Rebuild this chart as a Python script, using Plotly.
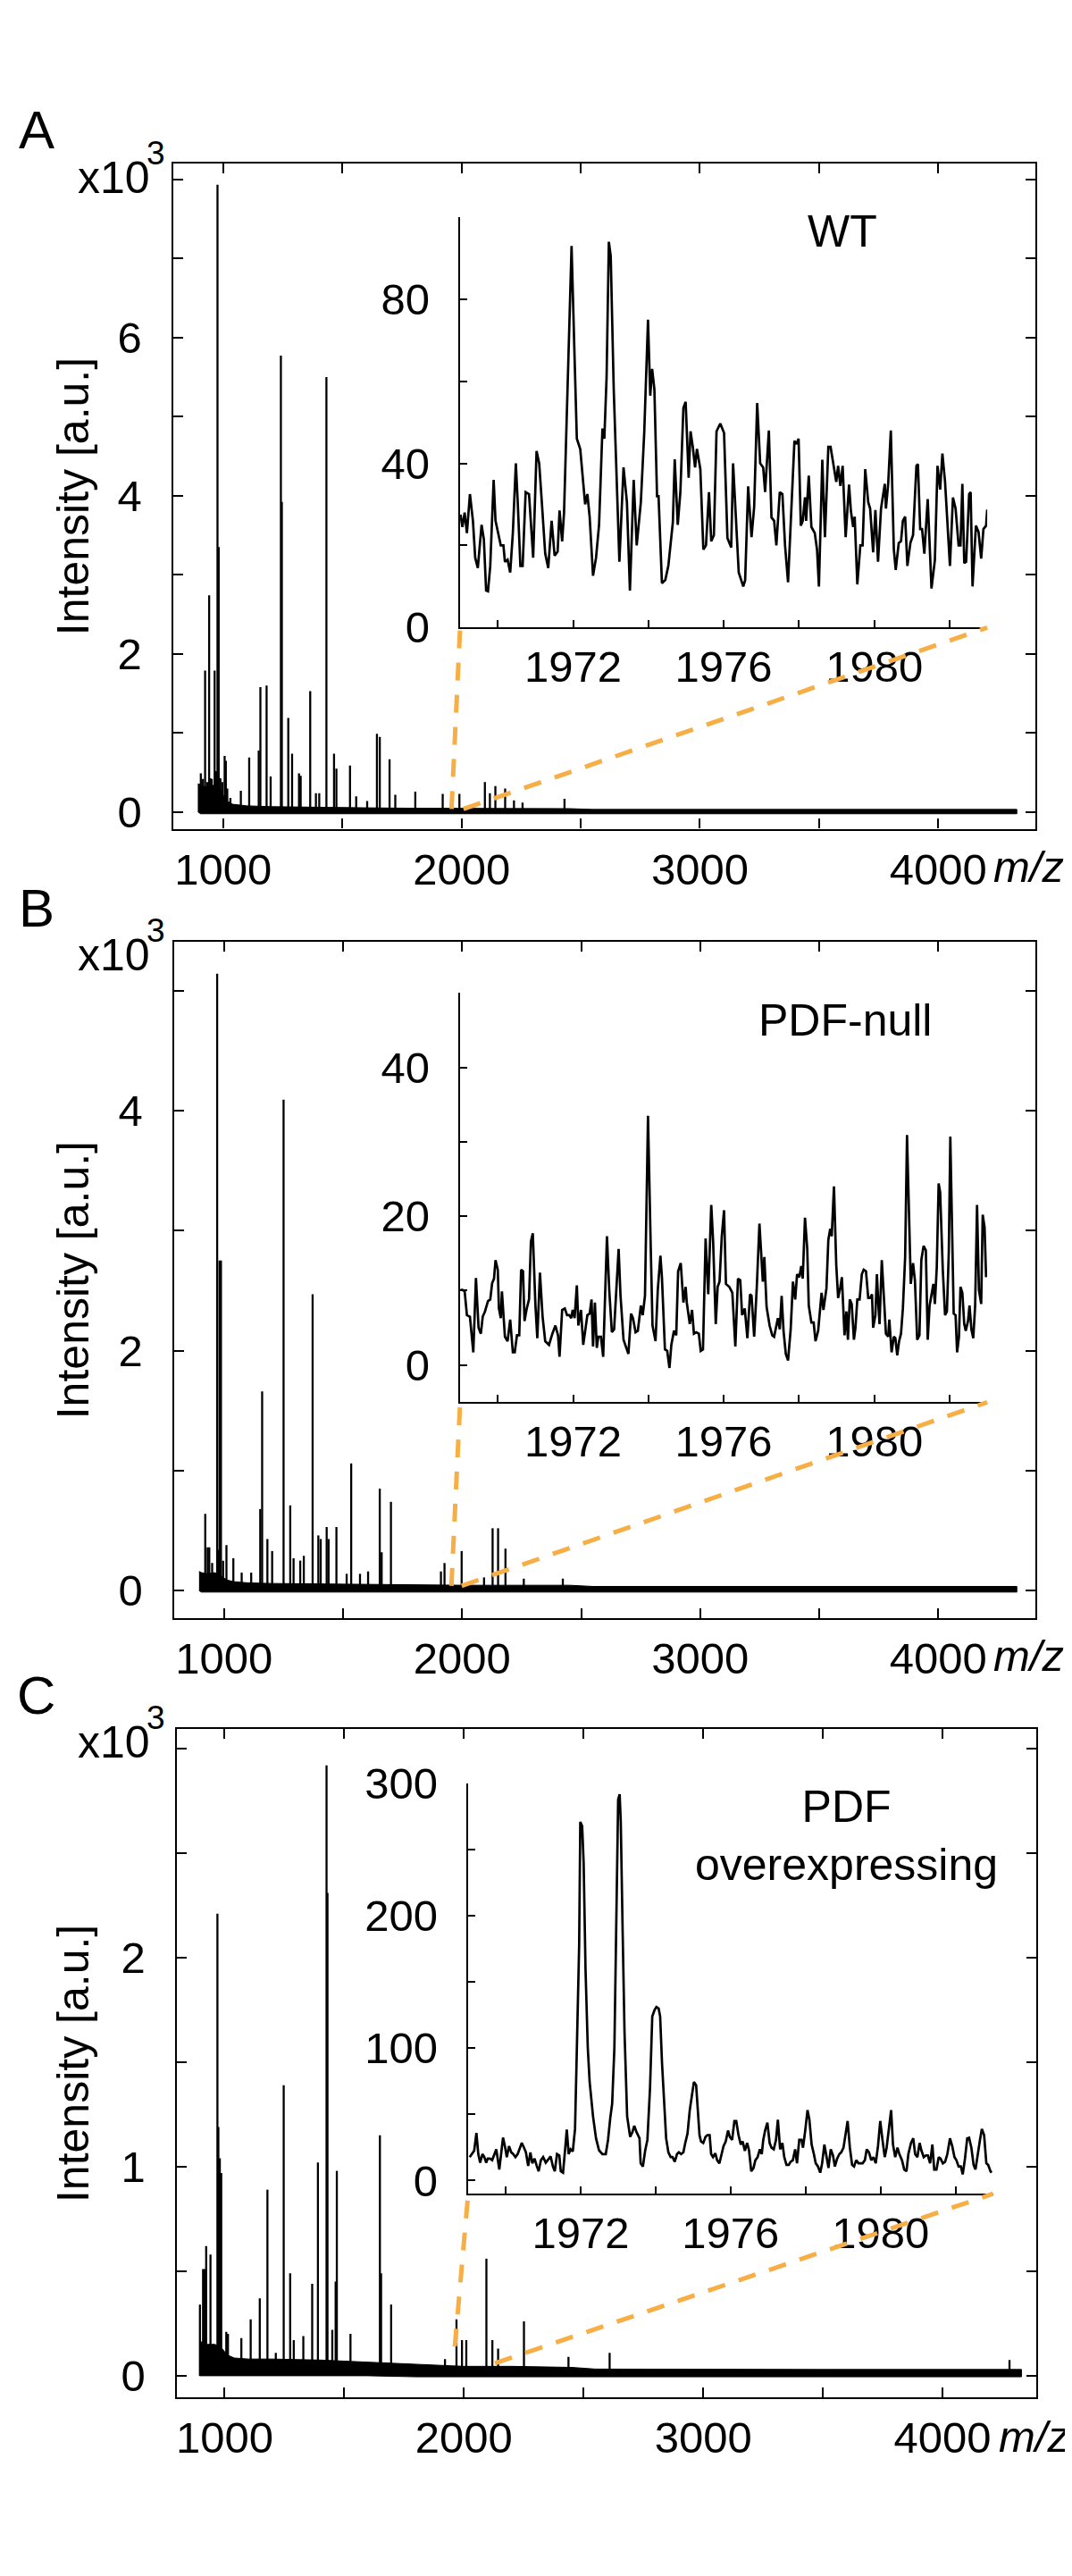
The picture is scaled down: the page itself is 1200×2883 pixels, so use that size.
import plotly.graph_objects as go

W, H = 1200, 2883
FONT = "Liberation Sans, Arial, Helvetica, sans-serif"
ORANGE = "#F6AE45"

# ================= DATA =================
# --- Panel A (WT) main spectrum: peak positions (m/z) and intensities (a.u.)
a_peak_mz = [898, 906, 915, 924, 933, 941, 946, 952, 964, 970, 976, 981, 988, 996, 1006, 1011, 1017, 1030,
             1074, 1109, 1149, 1156, 1182, 1199, 1242, 1246, 1273, 1289, 1318, 1325, 1365, 1389, 1403,
             1433, 1465, 1475, 1532, 1558, 1604, 1645, 1657, 1698, 1722, 1806, 1921, 1991, 2098, 2119,
             2142, 2183, 2220, 2256, 2432]
a_peak_int = [360, 490, 420, 1790, 380, 2740, 430, 420, 1790, 520, 7930, 3350, 430, 380, 710, 650, 300, 180,
              270, 690, 780, 1580, 1600, 450, 5770, 3920, 1190, 740, 490, 460, 1530, 240, 240,
              5500, 740, 550, 590, 200, 140, 990, 950, 670, 220, 260, 230, 230, 380, 240,
              330, 300, 150, 120, 170]
# baseline noise band (upper / lower envelope)
band_mz = [895, 905, 930, 960, 990, 1010, 1040, 1100, 1200, 1400, 1600, 1800, 2000, 2200, 2450, 2550,
           3000, 3500, 4000, 4330]
a_band_hi = [360, 330, 320, 340, 280, 150, 100, 80, 70, 60, 55, 50, 50, 50, 45, 35, 35, 35, 35, 35]
a_band_lo = [0, -20, -20, -20, -20, -20, -20, -20, -20, -20, -20, -20, -20, -20, -20, -20, -20, -20, -20, -20]

# --- Panel A inset (m/z 1969-1983)
a_zoom_mz = [1969.01, 1969.06, 1969.12, 1969.18, 1969.26, 1969.34, 1969.40, 1969.47, 1969.57, 1969.63,
             1969.69, 1969.74, 1969.80, 1969.89, 1969.94, 1970.00, 1970.08, 1970.15, 1970.19, 1970.26,
             1970.33, 1970.40, 1970.48, 1970.53, 1970.60, 1970.66, 1970.74, 1970.83, 1970.94, 1971.03,
             1971.10, 1971.17, 1971.26, 1971.34, 1971.43, 1971.51, 1971.59, 1971.64, 1971.71, 1971.76,
             1971.81, 1971.89, 1971.96, 1972.04, 1972.10, 1972.19, 1972.27, 1972.32, 1972.38, 1972.44,
             1972.53, 1972.61, 1972.69, 1972.78, 1972.83, 1972.89, 1972.95, 1973.00, 1973.08, 1973.14,
             1973.23, 1973.34, 1973.43, 1973.51, 1973.61, 1973.69, 1973.80, 1973.89, 1973.99, 1974.05,
             1974.10, 1974.16, 1974.23, 1974.27, 1974.36, 1974.45, 1974.53, 1974.65, 1974.70, 1974.78,
             1974.85, 1974.93, 1974.99, 1975.07, 1975.12, 1975.18, 1975.24, 1975.29, 1975.38, 1975.46,
             1975.53, 1975.61, 1975.67, 1975.74, 1975.81, 1975.91, 1976.01, 1976.10, 1976.20, 1976.25,
             1976.31, 1976.40, 1976.52, 1976.57, 1976.65, 1976.74, 1976.81, 1976.89, 1976.97, 1977.05,
             1977.10, 1977.20, 1977.27, 1977.34, 1977.40, 1977.49, 1977.56, 1977.63, 1977.71, 1977.78,
             1977.88, 1977.93, 1977.99, 1978.05, 1978.10, 1978.16, 1978.19, 1978.26, 1978.33, 1978.42,
             1978.48, 1978.53, 1978.62, 1978.69, 1978.78, 1978.84, 1978.92, 1978.99, 1979.04, 1979.10,
             1979.16, 1979.24, 1979.33, 1979.38, 1979.44, 1979.48, 1979.55, 1979.63, 1979.69, 1979.76,
             1979.84, 1979.89, 1979.97, 1980.03, 1980.10, 1980.18, 1980.28, 1980.31, 1980.37, 1980.44,
             1980.52, 1980.57, 1980.65, 1980.71, 1980.76, 1980.82, 1980.88, 1980.96, 1981.03, 1981.12,
             1981.16, 1981.22, 1981.27, 1981.33, 1981.42, 1981.48, 1981.52, 1981.61, 1981.68, 1981.75,
             1981.81, 1981.88, 1981.95, 1982.01, 1982.09, 1982.16, 1982.24, 1982.29, 1982.34, 1982.39,
             1982.44, 1982.52, 1982.56, 1982.61, 1982.70, 1982.77, 1982.84, 1982.90, 1982.97, 1983.00]
a_zoom_int = [27.5, 24.5, 28, 23, 32.5, 26, 17, 14.5, 25, 21.5,
              9, 8.8, 15, 36, 26, 23.5, 20, 20, 16, 16.5,
              13.4, 23, 40, 30.5, 15, 15, 33, 32.5, 17, 43,
              40, 30.5, 18, 14.5, 26, 17.5, 18.5, 28.5, 21, 28,
              44, 66, 93, 65.7, 46, 43.5, 35, 30, 32.5, 27,
              12.6, 17, 25, 48.5, 46, 61, 94, 90.5, 58, 41.5,
              16, 39, 30.5, 9, 36, 20, 30.5, 47.5, 75, 56.5,
              63, 58, 32, 32, 10.8, 11.6, 15, 25.6, 41, 25,
              33, 53.5, 55, 36.5, 47.8, 44, 39, 43.5, 38.6, 19,
              20, 33, 21, 22.5, 47.8, 49.7, 47.4, 21.8, 19.5, 40,
              30, 13.4, 10, 11.5, 34.4, 22, 29.4, 54.7, 40, 39,
              33, 48, 26.8, 26, 20, 33, 32.5, 20, 11, 25,
              45.5, 44.7, 46, 24.8, 26, 31.7, 26, 37, 24.5, 23,
              19, 10, 40.9, 22, 44, 44, 39, 35.5, 39.4, 34.5,
              39.4, 22, 34.8, 28.3, 24.5, 27, 10.5, 20, 20, 38.6,
              30.5, 29, 18.3, 28.6, 16, 29, 35, 29, 35, 48,
              19, 14, 20.6, 21, 26, 27, 15, 20.6, 22.5, 39.4,
              39.8, 24, 24, 18, 31.3, 16.4, 9.5, 16.4, 39.4, 33.6,
              42.4, 35.5, 24.5, 15, 31.7, 29, 20, 20, 35, 15.7,
              16, 32.5, 33, 10, 24.8, 23.3, 16.8, 24, 24.8, 28.7]

# --- Panel B (PDF-null) main spectrum
b_peak_mz = [921, 931, 938, 950, 971, 977, 981, 987, 996, 1010, 1039, 1074, 1114, 1152, 1160, 1182, 1202,
             1250, 1278, 1292, 1320, 1335, 1372, 1396, 1406, 1431, 1439, 1472, 1515, 1534, 1571, 1605,
             1654, 1662, 1701, 1911, 1926, 1998, 2092, 2128, 2151, 2182, 2259, 2423]
b_peak_int = [640, 360, 360, 230, 5140, 340, 2750, 2750, 250, 380, 270, 150, 150, 680, 1660, 430, 330,
              4090, 710, 270, 250, 290, 2470, 460, 430, 530, 430, 530, 140, 1060, 140, 160,
              850, 320, 740, 160, 230, 330, 110, 520, 520, 350, 100, 100]
b_band_hi = [160, 150, 140, 150, 120, 90, 75, 65, 60, 55, 50, 50, 45, 45, 45, 35, 35, 35, 35, 35]
b_band_lo = [0, -12, -12, -12, -12, -12, -12, -12, -12, -12, -12, -12, -12, -12, -12, -12, -12, -12, -12, -12]

# --- Panel B inset
b_zoom_mz = [1969.01, 1969.06, 1969.12, 1969.18, 1969.26, 1969.35, 1969.42, 1969.49, 1969.55, 1969.60,
             1969.66, 1969.74, 1969.80, 1969.85, 1969.90, 1969.94, 1970.00, 1970.03, 1970.08, 1970.11,
             1970.19, 1970.26, 1970.33, 1970.40, 1970.45, 1970.51, 1970.57, 1970.62, 1970.67, 1970.71,
             1970.77, 1970.83, 1970.88, 1970.93, 1971.00, 1971.05, 1971.12, 1971.19, 1971.26, 1971.36,
             1971.45, 1971.53, 1971.60, 1971.64, 1971.71, 1971.78, 1971.84, 1971.90, 1971.95, 1971.99,
             1972.04, 1972.10, 1972.14, 1972.21, 1972.27, 1972.32, 1972.38, 1972.44, 1972.49, 1972.53,
             1972.58, 1972.63, 1972.67, 1972.74, 1972.80, 1972.84, 1972.90, 1972.96, 1973.03, 1973.09,
             1973.15, 1973.21, 1973.26, 1973.34, 1973.40, 1973.47, 1973.54, 1973.59, 1973.66, 1973.72,
             1973.80, 1973.85, 1973.91, 1973.99, 1974.06, 1974.11, 1974.19, 1974.25, 1974.32, 1974.36,
             1974.44, 1974.50, 1974.56, 1974.61, 1974.68, 1974.74, 1974.79, 1974.86, 1974.93, 1974.99,
             1975.02, 1975.10, 1975.16, 1975.21, 1975.27, 1975.34, 1975.39, 1975.45, 1975.52, 1975.59,
             1975.67, 1975.72, 1975.79, 1975.84, 1975.89, 1975.95, 1976.01, 1976.06, 1976.15, 1976.23,
             1976.31, 1976.38, 1976.44, 1976.49, 1976.56, 1976.63, 1976.70, 1976.74, 1976.81, 1976.88,
             1976.95, 1976.99, 1977.04, 1977.08, 1977.14, 1977.22, 1977.29, 1977.34, 1977.39, 1977.44,
             1977.49, 1977.54, 1977.59, 1977.65, 1977.71, 1977.78, 1977.84, 1977.90, 1977.95, 1978.01,
             1978.06, 1978.10, 1978.16, 1978.22, 1978.26, 1978.33, 1978.39, 1978.44, 1978.51, 1978.56,
             1978.60, 1978.65, 1978.73, 1978.78, 1978.83, 1978.87, 1978.93, 1978.99, 1979.04, 1979.10,
             1979.14, 1979.21, 1979.26, 1979.30, 1979.35, 1979.40, 1979.46, 1979.50, 1979.55, 1979.61,
             1979.67, 1979.72, 1979.78, 1979.84, 1979.89, 1979.94, 1979.97, 1980.03, 1980.07, 1980.11,
             1980.14, 1980.20, 1980.25, 1980.31, 1980.37, 1980.40, 1980.46, 1980.52, 1980.56, 1980.61,
             1980.66, 1980.71, 1980.76, 1980.82, 1980.87, 1980.92, 1980.97, 1981.03, 1981.08, 1981.14,
             1981.20, 1981.25, 1981.31, 1981.37, 1981.42, 1981.47, 1981.52, 1981.57, 1981.61, 1981.66,
             1981.71, 1981.75, 1981.82, 1981.88, 1981.93, 1981.98, 1982.02, 1982.07, 1982.11, 1982.16,
             1982.20, 1982.25, 1982.29, 1982.34, 1982.39, 1982.43, 1982.49, 1982.53, 1982.58, 1982.63,
             1982.68, 1982.73, 1982.78, 1982.84, 1982.88, 1982.93, 1982.97]
b_zoom_int = [10.1, 10.1, 9.9, 6.7, 6.5, 1.7, 11.7, 5, 4.2, 6.5,
              7.2, 8.6, 8.8, 11, 11.6, 14.1, 12.8, 7.6, 6.3, 9.9,
              3.8, 3.2, 6.1, 1.7, 1.7, 4, 4, 12.8, 12.6, 5.9,
              7.6, 8.8, 16.6, 17.7, 8, 3.6, 12.4, 6.5, 3.2, 2.7,
              4.2, 5.3, 4, 1.1, 7.4, 7.6, 6.7, 6.7, 6.3, 7.4,
              6.3, 10.7, 5.3, 7.4, 2.7, 4.6, 6.7, 6.9, 8.8, 2.5,
              8.4, 2.3, 3.8, 3.8, 1.1, 7.6, 17.3, 10.1, 4.4, 4.8,
              9.7, 15.6, 9.3, 3.4, 2.5, 1.5, 6.9, 6.3, 4.4, 4.6,
              8, 6.7, 9.3, 33.5, 16.4, 5.3, 3.2, 10.1, 14.7, 11.8,
              2.1, 1.9, -0.4, 2.7, 4.6, 4, 12.6, 13.7, 8.4, 10.5,
              8.4, 5.5, 7.4, 4.2, 4.4, 4.2, 1.9, 2.1, 17, 9.5,
              21.5, 16.6, 5.5, 10.5, 11.2, 17.3, 20.8, 10.9, 10.5, 9.7,
              2.5, 11.6, 11.4, 6.7, 7.6, 3.6, 9.5, 9.3, 3.8, 10.5,
              19, 14.7, 11.2, 14.5, 7.8, 5.3, 4, 3.8, 5.3, 6.3,
              4.8, 9.3, 4.6, 1.5, 0.6, 4.8, 11.2, 8.8, 12.2, 11.8,
              13.3, 11.6, 19.8, 15.6, 8, 5.7, 5.7, 3.2, 4.6, 8,
              9.7, 7.4, 10.3, 16.8, 18.3, 17.3, 24, 13.5, 9, 10.5,
              11.8, 4, 7.2, 3.4, 8.8, 8.2, 3.4, 5, 8.8, 8.8,
              12.2, 12.8, 12.6, 9, 9, 9.5, 5, 6.7, 12.2, 8,
              5.5, 14.1, 8.8, 4.2, 3.8, 6.1, 1.7, 3.8, 3.6, 1.3,
              3.2, 4.2, 7.6, 14.5, 30.9, 20.2, 10.9, 13.7, 11.4, 3.4,
              4, 14.1, 16, 15.4, 3.4, 8, 9.3, 10.9, 8.2, 13.1,
              24.4, 23.2, 12.8, 6.7, 7.2, 15.2, 30.7, 18.5, 6.9, 6.7,
              1.7, 3.8, 10.5, 9.7, 5.5, 4.6, 5.9, 8, 4.8, 3.6,
              8, 21.5, 10.1, 8.2, 20.2, 18.5, 11.8]

# --- Panel C (PDF overexpressing) main spectrum
c_peak_mz = [897, 910, 917, 923, 941, 970, 974, 980, 986, 1007, 1014, 1070, 1109, 1147, 1179, 1214, 1247,
             1274, 1289, 1329, 1366, 1390, 1426, 1430, 1450, 1464, 1469, 1526, 1649, 1654, 1696, 1921,
             1969, 1992, 2010, 2094, 2119, 2143, 2251, 2437, 2609, 4280]
c_peak_int = [340, 510, 510, 620, 580, 2210, 1190, 1040, 970, 210, 200, 180, 270, 370, 890, 110, 1390,
              490, 170, 190, 440, 1020, 2920, 2310, 220, 450, 980, 200, 1150, 490, 340, 80,
              270, 170, 170, 560, 170, 130, 260, 90, 110, 75]
c_band_hi = [170, 160, 150, 150, 130, 100, 85, 80, 80, 75, 65, 55, 45, 45, 40, 32, 30, 30, 30, 30]
c_band_lo = [0, 0, 0, 0, 0, 0, 0, 0, 0, 0, 0, -5, -5, -5, -5, -5, -5, -5, -5, -5]

# --- Panel C inset
c_zoom_mz = [1969.04, 1969.09, 1969.16, 1969.22, 1969.27, 1969.32, 1969.38, 1969.43, 1969.48, 1969.52,
             1969.58, 1969.64, 1969.71, 1969.75, 1969.83, 1969.89, 1969.93, 1969.98, 1970.03, 1970.09,
             1970.15, 1970.20, 1970.26, 1970.32, 1970.37, 1970.43, 1970.49, 1970.54, 1970.60, 1970.66,
             1970.71, 1970.77, 1970.83, 1970.88, 1970.94, 1971.00, 1971.07, 1971.13, 1971.20, 1971.26,
             1971.31, 1971.37, 1971.43, 1971.47, 1971.53, 1971.59, 1971.63, 1971.68, 1971.73, 1971.79,
             1971.85, 1971.89, 1971.96, 1971.99, 1972.04, 1972.08, 1972.13, 1972.19, 1972.24, 1972.33,
             1972.41, 1972.49, 1972.58, 1972.67, 1972.73, 1972.79, 1972.84, 1972.90, 1972.95, 1973.00,
             1973.04, 1973.07, 1973.12, 1973.17, 1973.24, 1973.32, 1973.38, 1973.43, 1973.49, 1973.57,
             1973.60, 1973.66, 1973.72, 1973.78, 1973.85, 1973.91, 1973.97, 1974.02, 1974.08, 1974.12,
             1974.17, 1974.23, 1974.28, 1974.34, 1974.40, 1974.45, 1974.51, 1974.57, 1974.62, 1974.68,
             1974.74, 1974.79, 1974.85, 1974.91, 1974.96, 1975.02, 1975.08, 1975.12, 1975.17, 1975.21,
             1975.27, 1975.33, 1975.38, 1975.44, 1975.48, 1975.53, 1975.59, 1975.64, 1975.70, 1975.76,
             1975.81, 1975.87, 1975.93, 1975.98, 1976.04, 1976.10, 1976.15, 1976.21, 1976.27, 1976.32,
             1976.38, 1976.44, 1976.49, 1976.55, 1976.61, 1976.66, 1976.72, 1976.78, 1976.83, 1976.87,
             1976.92, 1976.98, 1977.04, 1977.09, 1977.15, 1977.21, 1977.26, 1977.32, 1977.38, 1977.43,
             1977.49, 1977.55, 1977.60, 1977.66, 1977.72, 1977.77, 1977.83, 1977.89, 1977.93, 1977.99,
             1978.05, 1978.10, 1978.16, 1978.22, 1978.27, 1978.33, 1978.39, 1978.44, 1978.50, 1978.56,
             1978.61, 1978.67, 1978.73, 1978.78, 1978.84, 1978.90, 1978.95, 1979.01, 1979.07, 1979.12,
             1979.18, 1979.24, 1979.29, 1979.35, 1979.41, 1979.46, 1979.52, 1979.58, 1979.63, 1979.69,
             1979.75, 1979.81, 1979.87, 1979.93, 1979.99, 1980.05, 1980.11, 1980.16, 1980.22, 1980.28,
             1980.33, 1980.39, 1980.45, 1980.50, 1980.57, 1980.63, 1980.69, 1980.74, 1980.81, 1980.87,
             1980.92, 1980.98, 1981.04, 1981.09, 1981.15, 1981.21, 1981.26, 1981.32, 1981.38, 1981.43,
             1981.49, 1981.55, 1981.60, 1981.66, 1981.72, 1981.78, 1981.85, 1981.91, 1981.97, 1982.02,
             1982.08, 1982.14, 1982.19, 1982.25, 1982.31, 1982.36, 1982.42, 1982.48, 1982.53, 1982.59,
             1982.65, 1982.70, 1982.76, 1982.82, 1982.87, 1982.93, 1982.96]
c_zoom_int = [17.7, 20, 22.5, 36, 20, 13.5, 20, 17.7, 13.5, 16.5,
              16.5, 15.4, 20, 23.6, 8.3, 25.3, 32.4, 26, 17.7, 26,
              21.3, 20, 17.7, 20, 23.6, 28.4, 24.8, 21.3, 11, 21.3,
              13, 16.5, 11, 7, 15.4, 17.7, 13.5, 15.4, 18.2, 10.6,
              7, 20, 19, 7, 5.9, 24.8, 38.5, 20, 23.6, 22,
              39, 88.7, 178, 271, 268, 240, 159.6, 100.5, 74.5, 48.5,
              31.9, 22.9, 20, 20, 30.7, 47.3, 58, 100.5, 188, 288,
              292, 270.7, 188, 112.3, 48.5, 33, 36.6, 41.4, 36.6, 31.9,
              13, 10.6, 22.5, 30.7, 69.7, 124, 128.8, 131.2, 130, 124,
              88.7, 53.2, 31.9, 21.3, 17.7, 17.7, 14.2, 20, 21.3, 20,
              21.3, 28.4, 35.5, 53.2, 62.6, 74.5, 72, 58, 34.3, 29.6,
              28.4, 33, 34.3, 34.3, 20, 17.7, 20.6, 15.4, 13, 20,
              26, 29.6, 37.8, 33, 30.7, 45, 45, 34.3, 27.2, 29.6,
              22.5, 28.4, 22.9, 7, 9.5, 15.4, 17.7, 23.6, 20, 30.7,
              37.8, 43.7, 28.4, 24.8, 23.6, 30.7, 46, 23.6, 28.4, 17.7,
              11.8, 11.8, 14.2, 15.4, 23.6, 13, 30.7, 30.7, 24.8, 37.8,
              53.2, 46, 27.2, 20, 13, 10.6, 5.9, 13, 27.2, 17.7,
              9.5, 23.6, 19, 10.6, 16.5, 20, 21.3, 24.8, 34.3, 45,
              24.8, 11.8, 10.6, 15.4, 13, 13, 13, 15.4, 23.6, 21.3,
              15.4, 17.7, 13, 26, 45, 30.7, 17.7, 24.8, 41.4, 53.2,
              27.2, 17.7, 24.8, 20, 15.4, 8.3, 7, 20, 28.4, 31.9,
              20, 17.7, 28.4, 22.5, 17.7, 19, 19, 13, 27.2, 8.3,
              8.3, 17.7, 16.5, 13, 14.2, 20, 31.9, 26, 17.7, 15.4,
              10.6, 10.6, 4.7, 16.5, 31.9, 32.4, 24.8, 11.8, 8.3, 21.3,
              30.7, 39, 34.3, 13, 11.8, 7, 5.9]

# ticks: labelled (major) and unlabelled (minor)
main_x_major = [1000, 2000, 3000, 4000]
main_x_minor = [1500, 2500, 3500]
zoom_x_major = [1972, 1976, 1980]
zoom_x_minor = [1970, 1974, 1978, 1982]
a_y_major, a_y_labels, a_y_minor = [0, 2000, 4000, 6000], ["0", "2", "4", "6"], [1000, 3000, 5000, 7000, 8000]
b_y_major, b_y_labels, b_y_minor = [0, 2000, 4000], ["0", "2", "4"], [1000, 3000, 5000]
c_y_major, c_y_labels, c_y_minor = [0, 1000, 2000], ["0", "1", "2"], [500, 1500, 2500, 3000]
a_zy_major, a_zy_minor = [0, 40, 80], [20, 60, 100]
b_zy_major, b_zy_minor = [0, 20, 40], [10, 30, 50]
c_zy_major, c_zy_minor = [0, 100, 200, 300], [50, 150, 250]

# ================= FIGURE =================
def px_x(p):
    return p / W


def px_y(p):
    return 1 - p / H


def spikes(mz, inten):
    xs, ys = [], []
    for m, v in zip(mz, inten):
        xs += [m, m, None]
        ys += [0, v, None]
    return xs, ys


fig = go.Figure()

panels = [
    dict(pm=a_peak_mz, pi=a_peak_int, bh=a_band_hi, bl=a_band_lo, zm=a_zoom_mz, zi=a_zoom_int,
         mx="x", my="y", zx="x2", zy="y2"),
    dict(pm=b_peak_mz, pi=b_peak_int, bh=b_band_hi, bl=b_band_lo, zm=b_zoom_mz, zi=b_zoom_int,
         mx="x3", my="y3", zx="x4", zy="y4"),
    dict(pm=c_peak_mz, pi=c_peak_int, bh=c_band_hi, bl=c_band_lo, zm=c_zoom_mz, zi=c_zoom_int,
         mx="x5", my="y5", zx="x6", zy="y6"),
]

for p in panels:
    fig.add_trace(go.Scatter(x=band_mz + band_mz[::-1], y=p["bh"] + p["bl"][::-1], fill="toself",
                             fillcolor="black", line=dict(color="black", width=1), mode="lines",
                             xaxis=p["mx"], yaxis=p["my"], hoverinfo="skip", showlegend=False))
    sx, sy = spikes(p["pm"], p["pi"])
    fig.add_trace(go.Scatter(x=sx, y=sy, mode="lines", line=dict(color="black", width=2.3),
                             xaxis=p["mx"], yaxis=p["my"], showlegend=False))
    fig.add_trace(go.Scatter(x=p["zm"], y=p["zi"], mode="lines", line=dict(color="black", width=2.7),
                             xaxis=p["zx"], yaxis=p["zy"], showlegend=False))

tickfont = dict(family=FONT, size=49, color="black")
common = dict(showline=True, linecolor="black", linewidth=2.4, ticks="inside", tickwidth=2.2,
              tickcolor="black", showgrid=False, zeroline=False, tickfont=tickfont)


def main_axes(xdom, ydom, xrange, yrange, ytv, ytt, ymin, anchor_x, anchor_y):
    xa = dict(domain=xdom, range=xrange, tickmode="array", tickvals=main_x_major,
              ticktext=[str(v) for v in main_x_major], mirror="ticks", ticklen=11,
              minor=dict(tickvals=main_x_minor, ticks="inside", ticklen=11, tickwidth=2.2, tickcolor="black"),
              ticklabelstandoff=1, anchor=anchor_y, **common)
    ya = dict(domain=ydom, range=yrange, tickmode="array", tickvals=ytv, ticktext=ytt, mirror="ticks",
              ticklen=11,
              minor=dict(tickvals=ymin, ticks="inside", ticklen=11, tickwidth=2.2, tickcolor="black"),
              ticklabelstandoff=23, anchor=anchor_x, **common)
    return xa, ya


def zoom_axes(xdom, ydom, yrange, ytv, ymin, anchor_x, anchor_y):
    xa = dict(domain=xdom, range=[1969, 1983], tickmode="array", tickvals=zoom_x_major,
              ticktext=[str(v) for v in zoom_x_major], mirror=False, ticklen=8,
              minor=dict(tickvals=zoom_x_minor, ticks="inside", ticklen=8, tickwidth=2.2, tickcolor="black"),
              ticklabelstandoff=0, anchor=anchor_y, **common)
    ya = dict(domain=ydom, range=yrange, tickmode="array", tickvals=ytv, ticktext=[str(v) for v in ytv],
              mirror=False, ticklen=8,
              minor=dict(tickvals=ymin, ticks="inside", ticklen=8, tickwidth=2.2, tickcolor="black"),
              ticklabelstandoff=22, anchor=anchor_x, **common)
    return xa, ya


# Panel A
xa, ya = main_axes([px_x(185), px_x(1151)], [px_y(909.6), px_y(150.7)], [790, 4408], [-210, 8200],
                   a_y_major, a_y_labels, a_y_minor, "x", "y")
fig.update_layout(xaxis=xa, yaxis=ya)
xa, ya = zoom_axes([px_x(506.5), px_x(1097)], [px_y(680), px_y(212)], [0, 100],
                   a_zy_major, a_zy_minor, "x2", "y2")
fig.update_layout(xaxis2=xa, yaxis2=ya)
# Panel B
xa, ya = main_axes([px_x(186), px_x(1151)], [px_y(1810), px_y(1038)], [790, 4408], [-230, 5410],
                   b_y_major, b_y_labels, b_y_minor, "x3", "y3")
fig.update_layout(xaxis3=xa, yaxis3=ya)
xa, ya = zoom_axes([px_x(506.5), px_x(1097)], [px_y(1563.6), px_y(1096.8)], [-5, 50],
                   b_zy_major, b_zy_minor, "x4", "y4")
fig.update_layout(xaxis4=xa, yaxis4=ya)
# Panel C
xa, ya = main_axes([px_x(189), px_x(1152)], [px_y(2699), px_y(1936)], [800, 4392], [-105, 3095],
                   c_y_major, c_y_labels, c_y_minor, "x5", "y5")
fig.update_layout(xaxis5=xa, yaxis5=ya)
xa, ya = zoom_axes([px_x(515.5), px_x(1103.6)], [px_y(2466.4), px_y(1998.6)], [-10, 300],
                   c_zy_major, c_zy_minor, "x6", "y6")
fig.update_layout(xaxis6=xa, yaxis6=ya)


def to_paper(axname, val):
    ax = fig.layout[axname]
    d0, d1 = ax.domain
    r0, r1 = ax.range
    return d0 + (val - r0) / (r1 - r0) * (d1 - d0)


# connector (zoom) lines: main-axis start point (m/z, intensity) -> inset bottom corners
connectors = [
    ("xaxis", "yaxis", "xaxis2", "yaxis2", [(1958, 40, 1969), (2008, 40, 1983)]),
    ("xaxis3", "yaxis3", "xaxis4", "yaxis4", [(1955, 40, 1969), (1998, 40, 1983)]),
    ("xaxis5", "yaxis5", "xaxis6", "yaxis6", [(1962, 140, 1969), (2130, 60, 1983)]),
]
for mxa, mya, zxa, zya, pairs in connectors:
    ybot = fig.layout[zya].range[0]
    for m0, i0, z1 in pairs:
        fig.add_shape(type="line", xref="paper", yref="paper",
                      x0=to_paper(mxa, m0), y0=to_paper(mya, i0),
                      x1=to_paper(zxa, z1), y1=to_paper(zya, ybot),
                      line=dict(color=ORANGE, width=5, dash="20px,16px"))

ann = []
lab_font = dict(family=FONT, size=50, color="black")
for letter, box_top in [("A", 150.7), ("B", 1038), ("C", 1936)]:
    ann.append(dict(text=letter, x=px_x(32), y=px_y(box_top - 38), xref="paper", yref="paper",
                    xanchor="center", yanchor="middle", showarrow=False,
                    font=dict(family=FONT, size=60, color="black")))
    ann.append(dict(text="x10", x=px_x(76), y=px_y(box_top + 16), xref="paper", yref="paper",
                    xanchor="left", yanchor="middle", showarrow=False,
                    font=dict(family=FONT, size=50, color="black")))
    ann.append(dict(text="3", x=px_x(153), y=px_y(box_top - 12), xref="paper", yref="paper",
                    xanchor="left", yanchor="middle", showarrow=False,
                    font=dict(family=FONT, size=37, color="black")))
for yref in ["y domain", "y3 domain", "y5 domain"]:
    ann.append(dict(text="Intensity [a.u.]", x=px_x(73), y=0.5, xref="paper", yref=yref,
                    xanchor="center", yanchor="middle", textangle=-90, showarrow=False,
                    font=lab_font))
for xc, yc in [(1143, 953), (1143, 1853), (1149, 2743)]:
    ann.append(dict(text="m/z", x=px_x(xc), y=px_y(yc), xref="paper", yref="paper",
                    xanchor="center", yanchor="middle", showarrow=False,
                    font=dict(family=FONT, size=49, color="black", style="italic")))
ann.append(dict(text="WT", x=px_x(935), y=px_y(228), xref="paper", yref="paper",
                xanchor="center", yanchor="middle", showarrow=False, font=lab_font))
ann.append(dict(text="PDF-null", x=px_x(938), y=px_y(1128), xref="paper", yref="paper",
                xanchor="center", yanchor="middle", showarrow=False, font=lab_font))
ann.append(dict(text="PDF<br>overexpressing", x=px_x(939), y=px_y(2058), xref="paper", yref="paper",
                xanchor="center", yanchor="middle", showarrow=False, font=lab_font))

fig.update_layout(width=W, height=H, margin=dict(l=0, r=0, t=0, b=0),
                  paper_bgcolor="white", plot_bgcolor="rgba(0,0,0,0)",
                  showlegend=False, annotations=ann, font=dict(family=FONT, color="black"))

fig.write_html("out.html")
